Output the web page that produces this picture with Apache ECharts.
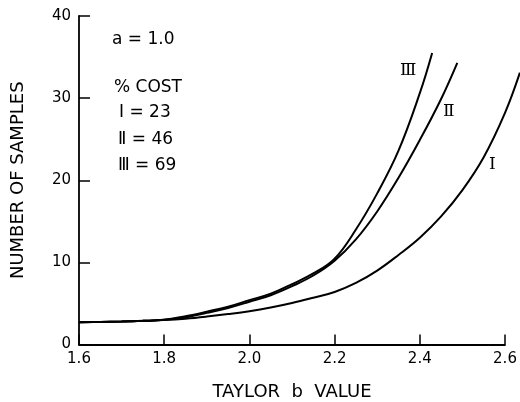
<!DOCTYPE html>
<html><head><meta charset="utf-8">
<script src="https://cdn.jsdelivr.net/npm/echarts@6/dist/echarts.min.js"></script>
<style>html,body{margin:0;padding:0;background:#fff}#c{width:520px;height:402px}</style>
</head><body><div id="c"></div>
<script>
// Curve I (23% cost)
const xI = [1.6, 1.65, 1.7, 1.75, 1.8, 1.85, 1.9, 1.95, 2.0, 2.05, 2.1, 2.15, 2.2, 2.25, 2.3, 2.35, 2.4, 2.45, 2.5, 2.55, 2.6, 2.635];
const yI = [2.7, 2.75, 2.8, 2.88, 2.98, 3.15, 3.4, 3.7, 4.05, 4.5, 5.05, 5.7, 6.4, 7.5, 9.0, 10.9, 13.0, 15.6, 18.8, 22.8, 28.2, 33.1];
// Curve II (46% cost)
const xII = [1.6, 1.65, 1.7, 1.75, 1.8, 1.85, 1.9, 1.95, 2.0, 2.05, 2.1, 2.15, 2.2, 2.25, 2.3, 2.35, 2.4, 2.45, 2.488];
const yII = [2.7, 2.75, 2.8, 2.88, 3.0, 3.3, 3.85, 4.45, 5.2, 6.0, 7.1, 8.4, 10.2, 12.8, 16.2, 20.3, 24.9, 29.9, 34.3];
// Curve III (69% cost)
const xIII = [1.6, 1.65, 1.7, 1.75, 1.8, 1.85, 1.9, 1.95, 2.0, 2.05, 2.1, 2.15, 2.2, 2.25, 2.3, 2.35, 2.4, 2.429];
const yIII = [2.7, 2.75, 2.8, 2.88, 3.0, 3.45, 4.0, 4.6, 5.4, 6.2, 7.35, 8.65, 10.45, 14.0, 18.4, 23.6, 30.6, 35.5];

const xLabels = ['1.6', '1.8', '2.0', '2.2', '2.4', '2.6'];
const yLabels = ['0', '10', '20', '30', '40'];
const costLines = ['a = 1.0', '% COST', 'Ⅰ = 23', 'Ⅱ = 46', 'Ⅲ = 69'];
const curveNames = ['Ⅰ', 'Ⅱ', 'Ⅲ'];

const zip = (xs, ys) => xs.map((x, i) => [x, ys[i]]);
const FONT = 'DejaVu Sans';
const L = 79, R = 15, T = 16, B = 57.5, W = 520;
const pxPerUnit = (W - L - R) / 1.0;
const chart = echarts.init(document.getElementById('c'), null, {renderer: 'canvas'});
const lineSeries = (d) => ({
  type: 'line', data: d, showSymbol: false, clip: false, smooth: 0.4,
  xAxisIndex: 1, yAxisIndex: 1,
  lineStyle: {color: '#000', width: 2}, animation: false, silent: true
});
const txt = (s, x, y, font) => ({
  type: 'text', x: x, y: y,
  style: {text: s, fill: '#000', font: font || ('17px "' + FONT + '"'), textVerticalAlign: 'middle'}
});

chart.setOption({
  animation: false,
  backgroundColor: '#fff',
  grid: [
    {left: L, right: R, top: T, bottom: B, containLabel: false, outerBoundsMode: 'none'},
    {left: L, right: 0, top: T, bottom: B, containLabel: false, outerBoundsMode: 'none'}
  ],
  xAxis: [{
    gridIndex: 0, type: 'value', min: 1.6, max: 2.6, interval: 0.2,
    name: 'TAYLOR  b  VALUE', nameLocation: 'middle', nameGap: 39,
    nameTextStyle: {color: '#000', fontFamily: FONT, fontSize: 18},
    axisLine: {show: true, lineStyle: {color: '#000', width: 1.8}},
    axisTick: {show: true, inside: true, length: 10, lineStyle: {color: '#000', width: 1.5}},
    axisLabel: {color: '#000', fontFamily: FONT, fontSize: 15, margin: 7,
      formatter: (v) => xLabels[Math.round((v - 1.6) / 0.2)]},
    splitLine: {show: false}
  }, {
    gridIndex: 1, type: 'value', min: 1.6, max: 1.6 + (W - L) / pxPerUnit, show: false,
    splitLine: {show: false}
  }],
  yAxis: [{
    gridIndex: 0, type: 'value', min: 0, max: 40, interval: 10,
    name: 'NUMBER OF SAMPLES', nameLocation: 'middle', nameGap: 52,
    nameTextStyle: {color: '#000', fontFamily: FONT, fontSize: 18},
    axisLine: {show: true, lineStyle: {color: '#000', width: 1.8}},
    axisTick: {show: true, inside: true, length: 11, lineStyle: {color: '#000', width: 1.5}},
    axisLabel: {color: '#000', fontFamily: FONT, fontSize: 15, margin: 8,
      formatter: (v) => yLabels[Math.round(v / 10)]},
    splitLine: {show: false}
  }, {
    gridIndex: 1, type: 'value', min: 0, max: 40, show: false, splitLine: {show: false}
  }],
  series: [lineSeries(zip(xI, yI)), lineSeries(zip(xII, yII)), lineSeries(zip(xIII, yIII))],
  graphic: [
    txt(costLines[0], 112, 40),
    txt(costLines[1], 114, 88),
    txt(costLines[2], 119, 113),
    txt(costLines[3], 118, 140),
    txt(costLines[4], 118, 166),
    txt(curveNames[2], 400, 71, '17px "DejaVu Serif"'),
    txt(curveNames[1], 443, 112, '17px "DejaVu Serif"'),
    txt(curveNames[0], 489, 165, '17px "DejaVu Serif"')
  ]
});
</script></body></html>
